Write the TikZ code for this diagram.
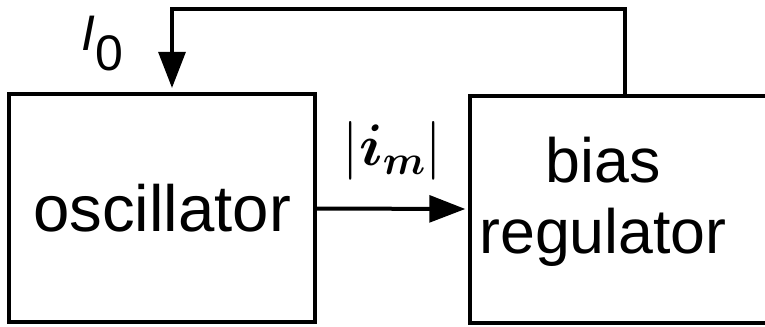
\RequirePackage{fix-cm}
\documentclass[tikz,border=0pt]{standalone}
\usepackage{bm}
\usepackage[no-math]{fontspec}
\setmainfont{Liberation Sans}
\usetikzlibrary{arrows.meta}

\begin{document}
\begin{tikzpicture}[x=0.75pt, y=-0.75pt,
  block/.style={draw, line width=3pt, inner sep=0pt, font=\fontsize{47}{53}\selectfont},
  arr/.style={line width=3pt, -{Triangle[length=27pt,width=20pt]}}]
  \useasboundingbox (0,0) rectangle (765,327);
  \clip (0,0) rectangle (765,327);
  % Draw the two blocks
  \node[block, minimum width=229.5pt, minimum height=171pt, font=\fontsize{49}{53}\selectfont] (osc) at (162,208) {oscillator};
  \node[block, minimum width=225pt, minimum height=170pt] (reg) at (620,209.5) {};
  \node[font=\fontsize{47}{53}\selectfont, align=center, inner sep=0pt] (regtext)
    at ([xshift=-12.75pt, yshift=6pt]reg.center) {bias\\regulator};
  % Draw the forward arrow
  \draw[arr, shorten >=2pt] (osc) -- node[above=20pt, inner sep=0pt, font=\fontsize{44}{48}\selectfont] (im) {$|\bm{i}_{\bm{m}}|$} (reg);
  % Draw the feedback loop
  \coordinate (fbR) at (625,9);
  \coordinate (fbL) at (172,9);
  \draw[arr, shorten >=3pt] (reg.north -| fbR) -- (fbR) -- (fbL) -- (osc.north -| fbL);
  \node[inner sep=0pt, font=\fontsize{37.5}{40}\selectfont] (I0) at (102,44) {\itshape I\upshape\raisebox{-15pt}{0}};
\end{tikzpicture}
\end{document}
